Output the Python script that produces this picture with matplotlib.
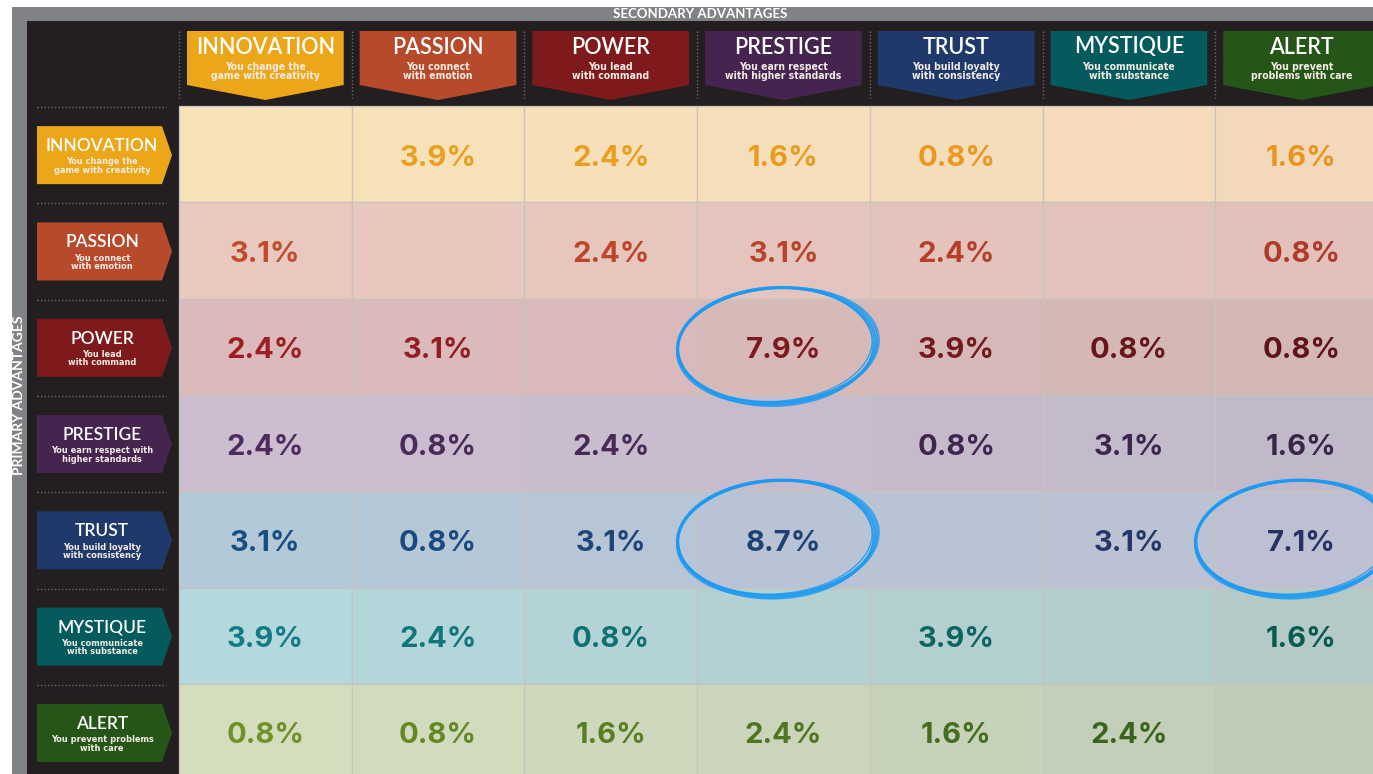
import numpy as np
import matplotlib.pyplot as plt
from matplotlib.patches import Polygon, Rectangle, Ellipse
from matplotlib.colors import to_rgb

nan = np.nan

advantages = ["INNOVATION", "PASSION", "POWER", "PRESTIGE", "TRUST", "MYSTIQUE", "ALERT"]
col_taglines = ["You change the\ngame with creativity", "You connect\nwith emotion",
                "You lead\nwith command", "You earn respect\nwith higher standards",
                "You build loyalty\nwith consistency", "You communicate\nwith substance",
                "You prevent\nproblems with care"]
row_taglines = ["You change the\ngame with creativity", "You connect\nwith emotion",
                "You lead\nwith command", "You earn respect with\nhigher standards",
                "You build loyalty\nwith consistency", "You communicate\nwith substance",
                "You prevent problems\nwith care"]

# % of people, rows = primary advantage, columns = secondary advantage
innovation = [nan, 3.9, 2.4, 1.6, 0.8, nan, 1.6]
passion = [3.1, nan, 2.4, 3.1, 2.4, nan, 0.8]
power = [2.4, 3.1, nan, 7.9, 3.9, 0.8, 0.8]
prestige = [2.4, 0.8, 2.4, nan, 0.8, 3.1, 1.6]
trust = [3.1, 0.8, 3.1, 8.7, nan, 3.1, 7.1]
mystique = [3.9, 2.4, 0.8, nan, 3.9, nan, 1.6]
alert = [0.8, 0.8, 1.6, 2.4, 1.6, 2.4, nan]
values = np.array([innovation, passion, power, prestige, trust, mystique, alert])

circled = [("POWER", "PRESTIGE"), ("TRUST", "PRESTIGE"), ("TRUST", "ALERT")]

# styling
brand = ["#eca619", "#b84a2c", "#7e1a1c", "#45244f", "#1f3a6a", "#045a5c", "#255617"]
bg_left = ["#f8e3b8", "#e9c8bf", "#dcbabb", "#cdbdd0", "#b3c9d8", "#b3d8dd", "#d4debf"]
bg_right = ["#f4d8bb", "#e2c1bb", "#d2b7b5", "#c1b9ca", "#bdc0d2", "#b3cac8", "#bfccb8"]
txt_left = ["#eaa21f", "#c24c2a", "#9e1f23", "#4d2b5c", "#174f82", "#127c82", "#6f9226"]
txt_right = ["#e8951f", "#b0392a", "#5e1418", "#3a2448", "#263263", "#0a5a52", "#2f5a1a"]

plt.rcParams['font.family'] = ['Lato', 'DejaVu Sans']
narrow = dict(family=['Liberation Sans Narrow', 'DejaVu Sans'], fontstretch='condensed')
numfont = ['Inter', 'Lato', 'DejaVu Sans']

W, H = 1373, 774
GX0, GY0 = 179, 106
CW, CH = 172.7, 96.3
n = len(advantages)


def mix(a, b, t):
    a, b = np.array(to_rgb(a)), np.array(to_rgb(b))
    return tuple(a + (b - a) * t)


fig = plt.figure(figsize=(W / 100, H / 100), dpi=100)
ax = fig.add_axes([0, 0, 1, 1])
ax.set_xlim(0, W)
ax.set_ylim(H, 0)
ax.axis('off')

# frame
ax.add_patch(Rectangle((12, 7), W, H, color="#818285", lw=0))
ax.add_patch(Rectangle((27, 21), W, H, color="#231f20", lw=0))
ax.text(700, 14.5, "SECONDARY ADVANTAGES", color="white", fontsize=9.5,
        fontweight='bold', ha='center', va='center')
ax.text(19.5, 395, "PRIMARY ADVANTAGES", color="white", fontsize=10,
        fontweight='bold', ha='center', va='center', rotation=90)

# cells
for i in range(n):
    for j in range(n):
        t = j / (n - 1)
        x0, y0 = GX0 + j * CW, GY0 + i * CH
        ax.add_patch(Rectangle((x0, y0), CW, CH, facecolor=mix(bg_left[i], bg_right[i], t),
                               edgecolor="#c9c3c0", lw=0.9))
        v = values[i, j]
        if not np.isnan(v):
            ax.text(x0 + CW / 2, y0 + CH / 2 + 4, f"{v:.1f}%", fontsize=21, fontweight='bold',
                    family=numfont, color=mix(txt_left[i], txt_right[i], t),
                    ha='center', va='center')

# column headers
for j, name in enumerate(advantages):
    x0 = GX0 + j * CW
    xa, xb, xc = x0 + 8, x0 + CW - 8, x0 + CW / 2
    ax.add_patch(Polygon([(xa, 31), (xb, 31), (xb, 85), (xc, 100), (xa, 85)],
                         closed=True, facecolor=brand[j], edgecolor='none'))
    ax.text(xc, 47, name, color="white", fontsize=15.5, fontweight='semibold',
            ha='center', va='center')
    ax.text(xc, 71.5, col_taglines[j], color="#f4ede6", fontsize=7.5, fontweight='bold',
            ha='center', va='center', linespacing=0.95, **narrow)
    ax.plot([x0, x0], [31, 98], color="#6d6a6a", lw=1, ls=(0, (1, 1.5)))
ax.plot([GX0 + n * CW] * 2, [31, 98], color="#6d6a6a", lw=1, ls=(0, (1, 1.5)))

# row labels
for i, name in enumerate(advantages):
    yc = GY0 + i * CH + CH / 2 + 1
    ax.plot([37, 166], [GY0 + i * CH + 1] * 2, color="#6d6a6a", lw=1, ls=(0, (1, 1.5)))
    ax.add_patch(Polygon([(37, yc - 29), (162, yc - 29), (172, yc), (162, yc + 29), (37, yc + 29)],
                         closed=True, facecolor=brand[i], edgecolor='none'))
    ax.text(102, yc - 9, name, color="white", fontsize=12.5, fontweight='semibold',
            ha='center', va='center')
    ax.text(102, yc + 11, row_taglines[i], color="#f4ede6", fontsize=6.6, fontweight='bold',
            ha='center', va='center', linespacing=0.9, **narrow)

# hand-drawn highlight rings
for r, c in circled:
    i, j = advantages.index(r), advantages.index(c)
    cx, cy = GX0 + j * CW + CW / 2 - 7, GY0 + i * CH + CH / 2 - 1
    for k, (dw, dh, ang, lw) in enumerate([(0, 0, -3, 2.4), (3, -2, -4, 1.3), (-3, 3, -2, 1.1),
                                            (5, 1, -5, 0.9), (-4, -3, -3.5, 1.0)]):
        ax.add_patch(Ellipse((cx + dw * 0.3, cy + dh * 0.3), 198 + dw, 116 + dh, angle=ang,
                             fill=False, edgecolor="#1b9af2", lw=lw, alpha=0.85))

fig.savefig("out.png", dpi=100)
